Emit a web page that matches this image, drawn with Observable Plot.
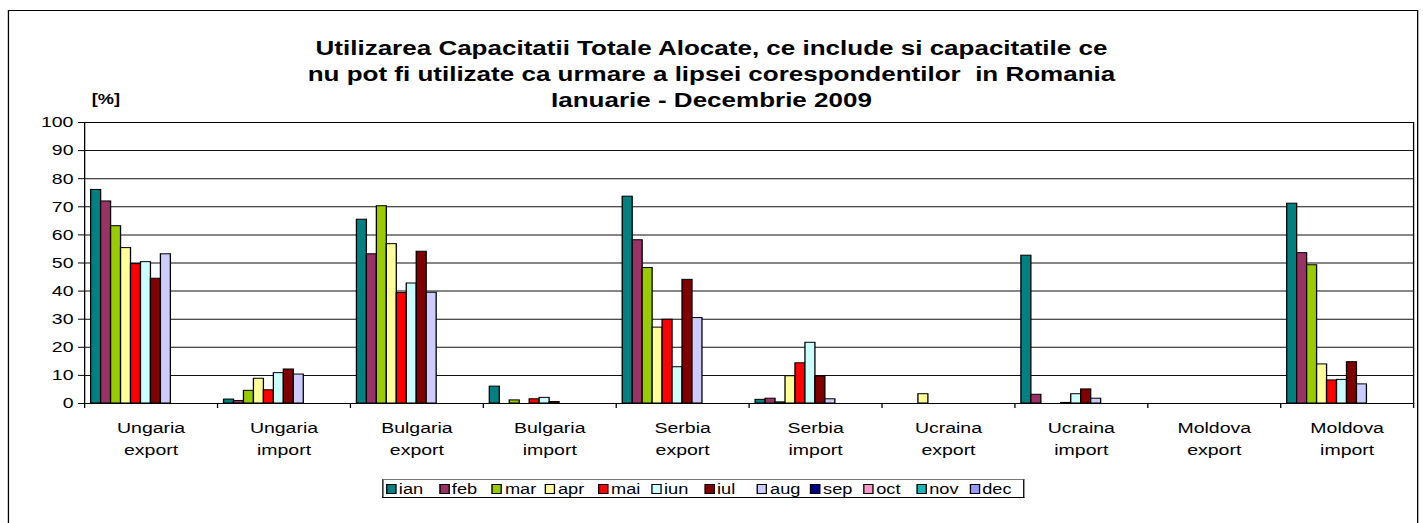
<!DOCTYPE html>
<html>
<head>
<meta charset="utf-8">
<script src="https://cdn.jsdelivr.net/npm/d3@7"></script>
<script src="https://cdn.jsdelivr.net/npm/@observablehq/plot@0.6"></script>
<style>
  html, body { margin: 0; padding: 0; background: #fff; overflow: hidden; }
  #wrap { position: relative; width: 1094.6px; height: 523px; transform: scaleX(1.3); transform-origin: 0 0;
          font-family: Arial, "Liberation Sans", sans-serif; color: #000; }
  #border { position: absolute; left: 6.2px; top: 10px; width: 1084.6px; height: 530px; border: 1px solid #000; box-sizing: border-box; }
  #title { position: absolute; left: 0; width: 1094.6px; top: 35px; text-align: center; font-weight: bold; font-size: 20px; line-height: 26px; }
  #unit { position: absolute; left: 70.5px; top: 91px; font-weight: bold; font-size: 14px; }
  #chart { position: absolute; left: 0; top: 0; }
  #legend { position: absolute; left: 293.8px; top: 479px; width: 493.8px; height: 19px; border: 1px solid #000;
            border-top-color: #777; box-sizing: border-box; display: flex; align-items: center; padding-left: 2px; }
  .item { display: flex; align-items: center; width: 40.8px; font-size: 14px; }
  .sw { width: 6px; height: 8px; border: 1px solid #000; margin-right: 2px; }
</style>
</head>
<body>
<div id="wrap">
  <div id="border"></div>
  <div id="chart"></div>
  <div id="title"></div>
  <div id="unit">[%]</div>
  <div id="legend"></div>
</div>
<script>
// ---- data ----
const titleLines = [
  "Utilizarea Capacitatii Totale Alocate, ce include si capacitatile ce",
  "nu pot fi utilizate ca urmare a lipsei corespondentilor  in Romania",
  "Ianuarie - Decembrie 2009"
];
const categories = ["Ungaria\nexport", "Ungaria\nimport", "Bulgaria\nexport", "Bulgaria\nimport", "Serbia\nexport",
                    "Serbia\nimport", "Ucraina\nexport", "Ucraina\nimport", "Moldova\nexport", "Moldova\nimport"];
const months = ["ian", "feb", "mar", "apr", "mai", "iun", "iul", "aug", "sep", "oct", "nov", "dec"];
const monthColors = ["#008080", "#993366", "#99CC00", "#FFFF99", "#FF0000", "#CCFFFF", "#800000", "#CCCCFF",
                     "#000080", "#FF99CC", "#1FB5B5", "#9999FF"];
const ian = [76.0, 1.4, 65.4, 6.0, 73.6, 1.3, null, 52.6, null, 71.1];
const feb = [71.9, 0.9, 53.1, null, 58.1, 1.7, null, 3.1, null, 53.5];
const mar = [63.1, 4.5, 70.2, 1.1, 48.2, 0.4, null, null, null, 49.2];
const apr = [55.3, 8.8, 56.7, null, 27.0, 9.7, 3.3, null, null, 13.9];
const mai = [49.6, 4.7, 39.3, 1.5, 29.8, 14.3, null, 0.2, null, 8.2];
const iun = [50.3, 10.8, 42.7, 2.0, 12.9, 21.6, null, 3.3, null, 8.4];
const iul = [44.4, 12.1, 54.0, 0.5, 44.0, 9.6, null, 5.0, null, 14.7];
const aug = [53.1, 10.3, 39.4, null, 30.4, 1.5, null, 1.7, null, 6.8];
const sep = [null, null, null, null, null, null, null, null, null, null];
const oct = [null, null, null, null, null, null, null, null, null, null];
const nov = [null, null, null, null, null, null, null, null, null, null];
const dec = [null, null, null, null, null, null, null, null, null, null];
const yTicks = [0, 10, 20, 30, 40, 50, 60, 70, 80, 90, 100];

// ---- build ----
const series = [ian, feb, mar, apr, mai, iun, iul, aug, sep, oct, nov, dec];
const rows = [];
series.forEach((vals, m) => vals.forEach((v, c) => { if (v != null) rows.push({c, m, month: months[m], value: v}); }));

const groupPad = 0.05, groupWidth = 0.9, slot = groupWidth / months.length;

document.getElementById("title").innerHTML = titleLines.map(t => t.replace(/  /g, " &nbsp;")).join("<br>");

const plot = Plot.plot({
  width: 1094.6,
  height: 480,
  marginTop: 122,
  marginBottom: 77,
  marginLeft: 64.6,
  marginRight: 7.7,
  style: {fontFamily: "Arial, 'Liberation Sans', sans-serif", fontSize: "15px", color: "#000", background: "transparent"},
  x: {type: "linear", domain: [0, categories.length], axis: null, label: null},
  y: {domain: [0, 100], axis: null, label: null},
  color: {domain: months, range: monthColors},
  marks: [
    Plot.ruleY(yTicks.slice(1), {stroke: "#111", strokeWidth: 1}),
    Plot.rectY(rows, {
      x1: d => d.c + groupPad + d.m * slot,
      x2: d => d.c + groupPad + (d.m + 1) * slot,
      y1: 0, y2: "value",
      fill: "month", stroke: "#000", strokeWidth: 1
    }),
    Plot.frame({stroke: "#000"}),
    Plot.axisY(yTicks, {label: null, tickSize: 4.6, tickPadding: 4, tickFormat: d => String(d), stroke: "#000", fill: "#000"}),
    Plot.axisX(d3.range(0, categories.length + 1), {label: null, tickSize: 5, tickFormat: () => "", stroke: "#000"}),
    Plot.text(categories, {
      x: (d, i) => i + 0.5, text: d => d, frameAnchor: "bottom", lineAnchor: "top",
      dy: 14, lineHeight: 1.45, fontSize: 15, fill: "#000"
    })
  ]
});
plot.style.maxWidth = "none";
document.getElementById("chart").appendChild(plot);

const legend = document.getElementById("legend");
months.forEach((m, i) => {
  const it = document.createElement("div");
  it.className = "item";
  it.innerHTML = `<span class="sw" style="background:${monthColors[i]}"></span><span>${m}</span>`;
  legend.appendChild(it);
});
</script>
</body>
</html>
